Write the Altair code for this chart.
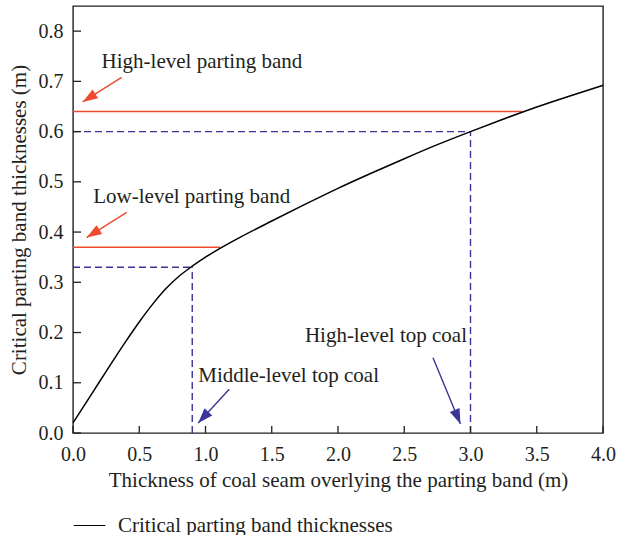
import math
import altair as alt
import pandas as pd

# Critical parting band thickness versus overlying coal seam thickness
seam_thickness = [0.0, 0.1, 0.2, 0.3, 0.4, 0.5, 0.6, 0.7, 0.8, 0.9, 1.0, 1.1,
                  1.25, 1.5, 1.75, 2.0, 2.25, 2.5, 2.75, 3.0, 3.25, 3.5, 3.75, 4.0]
critical_band = [0.02, 0.061, 0.102, 0.143, 0.183, 0.221, 0.256, 0.287, 0.312, 0.332,
                 0.35, 0.366, 0.388, 0.422, 0.455, 0.487, 0.517, 0.546, 0.574, 0.600,
                 0.625, 0.649, 0.671, 0.692]

# Parting band levels (red) and where their lines stop
band_levels = [0.64, 0.37]
band_ends = [3.39, 1.11]

# Top-coal guides (blue dashed)
guide_x = [0.9, 3.0]
guide_y = [0.33, 0.60]

# Annotation texts and their anchor points
note_text = ["High-level parting band", "Low-level parting band",
             "Middle-level top coal", "High-level top coal"]
note_x = [0.216, 0.153, 0.945, 1.75]
note_y = [0.726, 0.4586, 0.102, 0.181]

# Arrows: start and tip, plus colour group
arrow_x0 = [0.367, 0.405, 1.179, 2.717]
arrow_y0 = [0.708, 0.439, 0.087, 0.150]
arrow_x1 = [0.073, 0.103, 0.945, 2.924]
arrow_y1 = [0.659, 0.389, 0.020, 0.018]
arrow_kind = ["band", "band", "coal", "coal"]

x_ticks = [0.0, 0.5, 1.0, 1.5, 2.0, 2.5, 3.0, 3.5, 4.0]
y_ticks = [0.0, 0.1, 0.2, 0.3, 0.4, 0.5, 0.6, 0.7, 0.8]

W, H = 530, 427
X_MAX, Y_MAX = 4.0, 0.85
FONT = "Liberation Serif"
INK = "#231f20"
RED = "#ee4a2d"
BLUE = "#3a3597"

xs = alt.Scale(domain=[0, X_MAX], nice=False, zero=False)
ys = alt.Scale(domain=[0, Y_MAX], nice=False, zero=False)

curve_df = pd.DataFrame({"x": seam_thickness, "y": critical_band,
                         "series": "Critical parting band thicknesses"})
band_df = pd.DataFrame({"x0": 0.0, "x1": band_ends, "y": band_levels})
guide_df = pd.DataFrame({"x0": 0.0, "y0": 0.0, "x": guide_x, "y": guide_y})
note_df = pd.DataFrame({"text": note_text, "x": note_x, "y": note_y})

arrow_df = pd.DataFrame({"x0": arrow_x0, "y0": arrow_y0, "x1": arrow_x1,
                         "y1": arrow_y1, "kind": arrow_kind})
kx, ky = W / X_MAX, H / Y_MAX
arrow_df["angle"] = [
    math.degrees(math.atan2((b - a) * kx, (d - c) * ky)) % 360
    for a, b, c, d in zip(arrow_df.x0, arrow_df.x1, arrow_df.y0, arrow_df.y1)
]
arrow_color = alt.Color("kind:N", scale=alt.Scale(domain=["band", "coal"], range=[RED, BLUE]),
                        legend=None)

x_axis = alt.Axis(values=x_ticks, format=".1f", ticks=False, tickSize=0, domain=False,
                  grid=False, labelFlush=False, labelFont=FONT, labelFontSize=20,
                  labelColor=INK, labelPadding=11,
                  title="Thickness of coal seam overlying the parting band (m)",
                  titleFont=FONT, titleFontSize=21, titleFontWeight="normal", titleColor=INK,
                  titleY=53, titleBaseline="alphabetic")
y_axis = alt.Axis(values=y_ticks, format=".1f", ticks=False, tickSize=0, domain=False,
                  grid=False, labelFlush=False, labelFont=FONT, labelFontSize=20,
                  labelColor=INK, labelPadding=10,
                  title="Critical parting band thicknesses (m)",
                  titleFont=FONT, titleFontSize=21, titleFontWeight="normal", titleColor=INK,
                  titleX=-48, titleBaseline="alphabetic")

curve = alt.Chart(curve_df).mark_line(strokeWidth=1.5, interpolate="monotone").encode(
    x=alt.X("x:Q", scale=xs, axis=x_axis),
    y=alt.Y("y:Q", scale=ys, axis=y_axis),
    color=alt.Color("series:N", scale=alt.Scale(range=["black"]),
                    legend=alt.Legend(orient="none", legendX=0, legendY=503, title=None,
                                      symbolType="stroke", symbolSize=1000,
                                      symbolStrokeWidth=1.2, symbolStrokeColor="black",
                                      labelFont=FONT, labelFontSize=21, labelColor=INK,
                                      labelOffset=12, labelLimit=600, padding=0)),
)

bands = alt.Chart(band_df).mark_rule(color=RED, strokeWidth=1.5).encode(
    x=alt.X("x0:Q", scale=xs), x2="x1:Q", y=alt.Y("y:Q", scale=ys))

guide_h = alt.Chart(guide_df).mark_rule(color=BLUE, strokeWidth=1.4, strokeDash=[7, 4]).encode(
    x=alt.X("x0:Q", scale=xs), x2="x:Q", y=alt.Y("y:Q", scale=ys))
guide_v = alt.Chart(guide_df).mark_rule(color=BLUE, strokeWidth=1.4, strokeDash=[7, 4]).encode(
    x=alt.X("x:Q", scale=xs), y=alt.Y("y0:Q", scale=ys), y2="y:Q")

notes = alt.Chart(note_df).mark_text(align="left", baseline="alphabetic", font=FONT,
                                     fontSize=21, color=INK).encode(
    x=alt.X("x:Q", scale=xs), y=alt.Y("y:Q", scale=ys), text="text:N")

shafts = alt.Chart(arrow_df).mark_rule(strokeWidth=1.4).encode(
    x=alt.X("x0:Q", scale=xs), y=alt.Y("y0:Q", scale=ys), x2="x1:Q", y2="y1:Q",
    color=arrow_color)

heads = alt.Chart(arrow_df).mark_point(shape="M0,0L-0.7,2L0.7,2Z", size=225, filled=True,
                                       opacity=1, strokeWidth=0).encode(
    x=alt.X("x1:Q", scale=xs), y=alt.Y("y1:Q", scale=ys),
    angle=alt.Angle("angle:Q", scale=None), color=arrow_color)

# Inward tick marks along the left and bottom edges
yt = alt.Chart(pd.DataFrame({"v": y_ticks})).mark_rule(color=INK, strokeWidth=1.3).encode(
    y=alt.Y("v:Q", scale=ys), x=alt.value(0), x2=alt.value(8))
xt = alt.Chart(pd.DataFrame({"v": x_ticks})).mark_rule(color=INK, strokeWidth=1.3).encode(
    x=alt.X("v:Q", scale=xs), y=alt.value(H), y2=alt.value(H - 7))

chart = alt.layer(bands, guide_h, guide_v, curve, shafts, heads, notes, yt, xt).resolve_scale(
    color="independent"
).properties(
    width=W, height=H,
    autosize=alt.AutoSizeParams(type="none"),
    padding={"left": 73, "top": 6, "right": 14, "bottom": 102},
    background="white",
).configure_view(stroke=INK, strokeWidth=1.4)

chart.save("out.html", embed_options={"renderer": "svg", "actions": False})
